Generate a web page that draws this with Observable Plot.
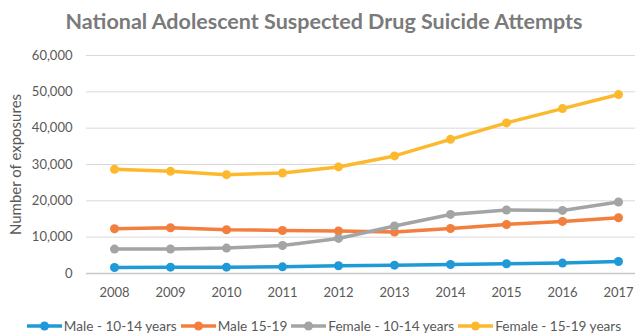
<!DOCTYPE html>
<html>
<head>
<meta charset="utf-8">
<script src="https://cdn.jsdelivr.net/npm/d3@7"></script>
<script src="https://cdn.jsdelivr.net/npm/@observablehq/plot@0.6"></script>
<style>
  body { margin: 0; background: #fff; font-family: Lato, "Open Sans", sans-serif; width: 640px; height: 333px; overflow: hidden; }
  #title { height: 40px; box-sizing: border-box; padding-top: 8px; padding-left: 8px; text-align: center; font-weight: bold; font-size: 21.5px; color: #7a7a7a; line-height: 26px; }
  #legend { height: 28px; box-sizing: border-box; padding-top: 14px; display: flex; justify-content: center; align-items: center; font-size: 13.6px; color: #595959; padding-left: 12px; }
  .item { display: flex; align-items: center; margin-right: 4px; }
  .item svg { margin-right: 2px; }
</style>
</head>
<body>
<div id="title">National Adolescent Suspected Drug Suicide Attempts</div>
<div id="chart"></div>
<div id="legend"></div>
<script>
const years = [2008, 2009, 2010, 2011, 2012, 2013, 2014, 2015, 2016, 2017];
const seriesNames = ["Male - 10-14 years", "Male 15-19", "Female - 10-14 years", "Female - 15-19 years"];
const male1014 = [1650, 1750, 1750, 1840, 2120, 2300, 2480, 2670, 2860, 3300];
const male1519 = [12320, 12600, 12040, 11850, 11690, 11400, 12400, 13500, 14330, 15350];
const female1014 = [6720, 6750, 7000, 7720, 9650, 13060, 16260, 17470, 17360, 19680];
const female1519 = [28660, 28110, 27200, 27670, 29330, 32360, 36930, 41450, 45390, 49250];
const colors = ["#1f9ad6", "#f27f3d", "#a3a4a6", "#fdb92d"];
const yTicks = [0, 10000, 20000, 30000, 40000, 50000, 60000];

const seriesValues = [male1014, male1519, female1014, female1519];
const data = [];
seriesNames.forEach((s, i) => years.forEach((y, j) => data.push({series: s, year: y, value: seriesValues[i][j]})));

const marks = [
  Plot.gridY(yTicks.slice(1), {stroke: "#d9d9d9", strokeOpacity: 1}),
  Plot.ruleY([0], {stroke: "#c8c8c8", strokeWidth: 1.5}),
  Plot.axisY(yTicks, {tickSize: 0, tickPadding: 14, tickFormat: d3.format(","), label: null, fill: "#595959", fontSize: 13}),
  Plot.axisX(years, {tickSize: 0, tickPadding: 14, tickFormat: "d", label: null, fill: "#595959", fontSize: 13}),
  Plot.text(["Number of exposures"], {frameAnchor: "left", textAnchor: "middle", rotate: -90, dx: -70, fontSize: 15, fill: "#595959"})
];
seriesNames.forEach((s, i) => {
  const d = data.filter(r => r.series === s);
  marks.push(Plot.line(d, {x: "year", y: "value", stroke: colors[i], strokeWidth: 3.5}));
  marks.push(Plot.dot(d, {x: "year", y: "value", fill: colors[i], r: 4.5}));
});

const chart = Plot.plot({
  width: 640, height: 265,
  marginTop: 15, marginBottom: 32, marginLeft: 86, marginRight: 5,
  style: {fontFamily: "Lato, sans-serif", fontSize: "13px", background: "#fff"},
  x: {type: "linear", domain: [2008, 2017], range: [114, 618]},
  y: {domain: [0, 60000]},
  marks
});
document.getElementById("chart").appendChild(chart);

const legend = document.getElementById("legend");
seriesNames.forEach((s, i) => {
  const item = document.createElement("div");
  item.className = "item";
  item.innerHTML = `<svg width="35" height="10"><line x1="0" x2="35" y1="5" y2="5" stroke="${colors[i]}" stroke-width="3.5"/><circle cx="17.5" cy="5" r="4.5" fill="${colors[i]}"/></svg><span>${s}</span>`;
  legend.appendChild(item);
});
</script>
</body>
</html>
